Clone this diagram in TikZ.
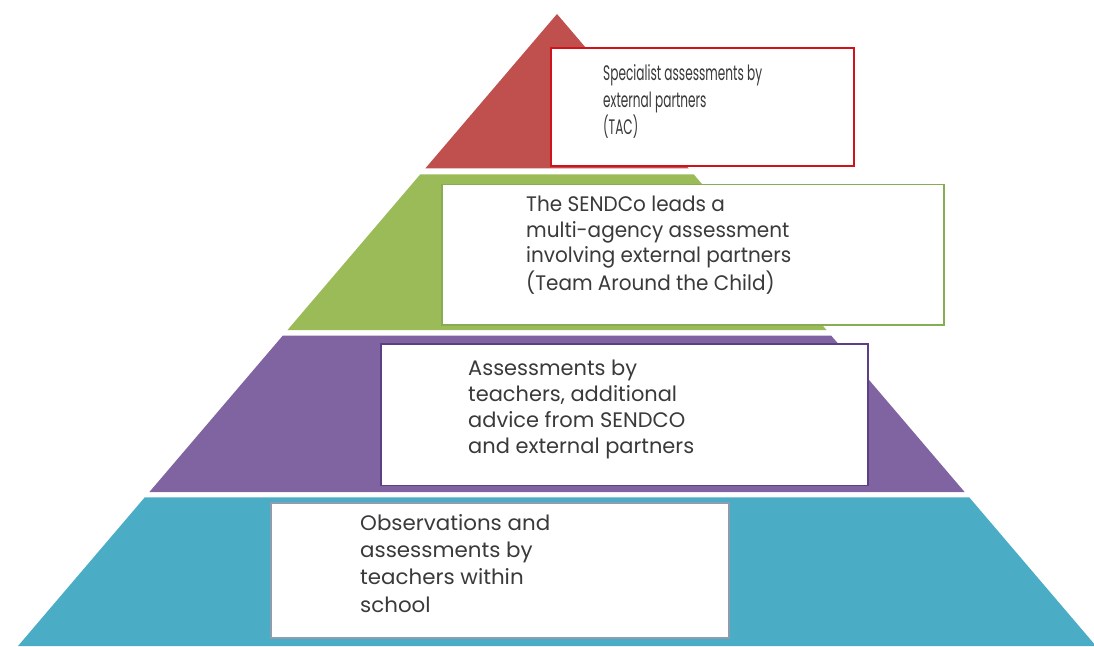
\documentclass[tikz,border=0pt]{standalone}
\usepackage{fontspec}
\setmainfont{Poppins}
\usepackage{graphicx}
\definecolor{pred}{HTML}{C0504D}
\definecolor{pgreen}{HTML}{9BBB59}
\definecolor{ppurple}{HTML}{8064A2}
\definecolor{pteal}{HTML}{4BACC6}
\definecolor{bred}{HTML}{D0121B}
\definecolor{bgreen}{HTML}{86AD52}
\definecolor{bpurple}{HTML}{5E3F86}
\definecolor{bteal}{HTML}{8C9DB0}
\definecolor{txt}{HTML}{3A3A3A}
\newcommand{\blocktext}[3]{\resizebox{#1}{\height}{\fontsize{21}{#2}\selectfont\begin{tabular}{@{}l@{}}#3\end{tabular}}}
\begin{document}
\begin{tikzpicture}[x=1pt,y=-1pt,
  infobox/.style={draw=#1, line width=1.2pt, fill=white, inner sep=0pt, rectangle},
  infotext/.style={anchor=north west, inner sep=0pt, text=txt}]
\useasboundingbox (0,0) rectangle (1094,646);
% pyramid bands
\fill[pred] (557,14) -- (688.6,168.3) -- (425.4,168.3) -- cycle;
\fill[pgreen] (420.3,174.3) -- (693.7,174.3) -- (826.5,330) -- (287.5,330) -- cycle;
\fill[ppurple] (282.7,335.7) -- (831.3,335.7) -- (964.6,492) -- (149.4,492) -- cycle;
\fill[pteal] (144.8,497.3) -- (969.2,497.3) -- (1096,646) -- (18,646) -- cycle;
% boxes
\node[infobox=bred, minimum width=303pt, minimum height=118pt] (boxred) at (702.5,107) {};
\node[infobox=bgreen, minimum width=502pt, minimum height=140.5pt] (boxgreen) at (693,254.75) {};
\node[infobox=bpurple, minimum width=487pt, minimum height=141.5pt] (boxpurple) at (624.5,414.75) {};
\node[infobox=bteal, minimum width=458pt, minimum height=135pt] (boxteal) at (500,570.5) {};
% texts
\node[infotext] (tred) at (603,61.1) {\blocktext{159pt}{27}{Specialist assessments by\\external partners\\(TAC)}};
\node[infotext] (tgreen) at (526,193.8) {\blocktext{265pt}{25.5}{The SENDCo leads a\\multi-agency assessment\\involving external partners\\(Team Around the Child)}};
\node[infotext] (tpurple) at (468,356.8) {\blocktext{226pt}{26}{Assessments by\\teachers, additional\\advice from SENDCO\\and external partners}};
\node[infotext] (tteal) at (360,510.9) {\blocktext{190pt}{27.3}{Observations and\\assessments by\\teachers within\\school}};
\end{tikzpicture}
\end{document}
